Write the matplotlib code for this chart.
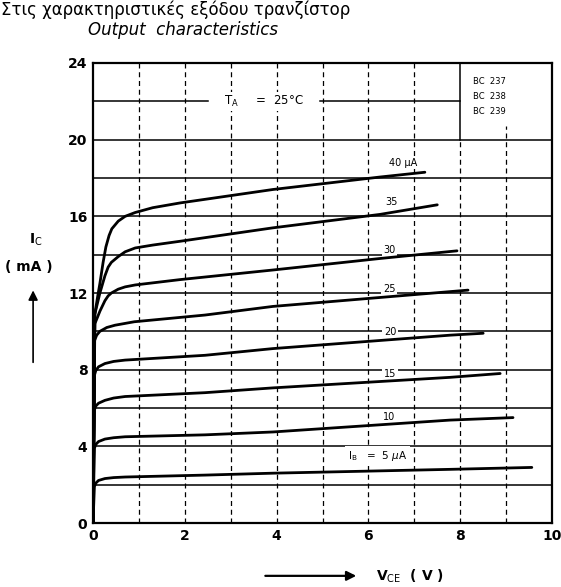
import numpy as np
import matplotlib
matplotlib.use('Agg')
import matplotlib.pyplot as plt

# curves: base current (uA) -> (Vce, Ic)
ib_labels = ['40 \u03bcA', '35', '30', '25', '20', '15', '10']
curve_x = {
    40: [0.0, 0.04, 0.1, 0.15, 0.22, 0.28, 0.35, 0.41, 0.55, 0.7, 0.92, 1.3, 1.9, 3.92, 6.25, 7.23],
    35: [0.0, 0.04, 0.1, 0.15, 0.26, 0.33, 0.4, 0.55, 0.7, 0.92, 1.3, 1.9, 3.92, 6.25, 7.5],
    30: [0.0, 0.04, 0.1, 0.15, 0.26, 0.33, 0.4, 0.55, 0.7, 0.92, 1.9, 3.92, 6.25, 7.93],
    25: [0.0, 0.03, 0.08, 0.15, 0.3, 0.48, 0.9, 2.44, 3.92, 8.17],
    20: [0.0, 0.03, 0.06, 0.12, 0.26, 0.45, 0.7, 2.44, 3.92, 7.78, 8.5],
    15: [0.0, 0.03, 0.06, 0.12, 0.26, 0.45, 0.7, 2.44, 3.92, 7.78, 8.87],
    10: [0.0, 0.03, 0.06, 0.12, 0.26, 0.45, 0.7, 2.44, 3.92, 7.78, 9.15],
    5: [0.0, 0.03, 0.06, 0.12, 0.26, 0.45, 0.7, 2.44, 3.92, 7.78, 9.56],
}
curve_y = {
    40: [0.0, 10.9, 11.8, 12.5, 13.6, 14.4, 15.0, 15.35, 15.75, 16.0, 16.2, 16.45, 16.7, 17.4, 18.05, 18.3],
    35: [0.0, 10.9, 11.5, 12.0, 12.9, 13.35, 13.6, 13.9, 14.15, 14.35, 14.5, 14.7, 15.4, 16.1, 16.6],
    30: [0.0, 10.4, 10.75, 11.05, 11.6, 11.85, 12.0, 12.2, 12.32, 12.42, 12.7, 13.2, 13.8, 14.2],
    25: [0.0, 9.5, 9.8, 10.0, 10.2, 10.32, 10.5, 10.85, 11.3, 12.15],
    20: [0.0, 7.7, 7.95, 8.15, 8.32, 8.43, 8.5, 8.75, 9.1, 9.8, 9.9],
    15: [0.0, 5.9, 6.1, 6.25, 6.4, 6.52, 6.6, 6.8, 7.05, 7.6, 7.8],
    10: [0.0, 3.9, 4.1, 4.25, 4.38, 4.45, 4.5, 4.6, 4.75, 5.37, 5.5],
    5: [0.0, 1.9, 2.08, 2.22, 2.32, 2.37, 2.4, 2.5, 2.6, 2.8, 2.9],
}
# label positions for the curves
label_x = [6.75, 6.5, 6.45, 6.45, 6.47, 6.47, 6.45]
label_y = [18.8, 16.75, 14.25, 12.2, 9.95, 7.75, 5.55]
devices = ['BC  237', 'BC  238', 'BC  239']

fig = plt.figure(figsize=(5.61, 5.87), dpi=100)
ax = fig.add_axes([0.1658, 0.109, 0.8182, 0.7837])

# grid: solid horizontals, dashed verticals
for yy in range(2, 22, 2):
    ax.axhline(yy, color='black', lw=1.1, zorder=1)
ax.plot([0, 2.5], [22, 22], color='black', lw=1.1, zorder=1)
ax.plot([4.95, 8.0], [22, 22], color='black', lw=1.1, zorder=1)
for xx in range(1, 10):
    top = 20.7 if xx == 9 else 24
    if xx == 8:
        ax.plot([xx, xx], [20, 24], color='black', lw=1.1, zorder=1)
        ax.plot([xx, xx], [0, 20], color='black', lw=0.9, ls=(0, (4, 3)), zorder=1)
    else:
        ax.plot([xx, xx], [0, top], color='black', lw=0.9, ls=(0, (4, 3)), zorder=1)

for k in curve_x:
    ax.plot(curve_x[k], curve_y[k], color='black', lw=2.0, zorder=3,
            solid_capstyle='round', solid_joinstyle='round')

for lab, lx, ly in zip(ib_labels, label_x, label_y):
    ax.text(lx, ly, lab, fontsize=7, ha='center', va='center', zorder=2,
            bbox=dict(facecolor='white', edgecolor='none', pad=1.0))
ax.text(6.2, 3.5, r'I$_{\rm B}$   =  5 $\mu$A', fontsize=7.5, ha='center',
        va='center', zorder=2, bbox=dict(facecolor='white', edgecolor='none', pad=2.0))
ax.text(3.72, 22.0, r'T$_{\rm A}$     =  25$\degree$C', fontsize=8.5, ha='center',
        va='center', zorder=2, bbox=dict(facecolor='white', edgecolor='none', pad=1.5))
for i, d in enumerate(devices):
    ax.text(8.28, 23.05 - 0.78 * i, d, fontsize=6, ha='left', va='center')

ax.set_xlim(0, 10)
ax.set_ylim(0, 24)
ax.set_xticks(range(0, 11, 2))
ax.set_yticks(range(0, 25, 4))
ax.tick_params(length=0, pad=4, labelsize=10)
for t in ax.get_xticklabels() + ax.get_yticklabels():
    t.set_fontweight('bold')
for s in ax.spines.values():
    s.set_linewidth(1.6)

# axis labels with arrows
fig.text(0.064, 0.592, r'I$_{\rm C}$', fontsize=10, ha='center', va='center', fontweight='bold')
fig.text(0.052, 0.545, '( mA )', fontsize=10, ha='center', va='center', fontweight='bold')
fig.add_artist(matplotlib.patches.FancyArrowPatch(
    (0.059, 0.378), (0.059, 0.51), transform=fig.transFigure,
    arrowstyle='-|>', mutation_scale=14, color='black', lw=1.2))
fig.add_artist(matplotlib.patches.FancyArrowPatch(
    (0.468, 0.019), (0.64, 0.019), transform=fig.transFigure,
    arrowstyle='-|>', mutation_scale=14, color='black', lw=1.6))
fig.text(0.67, 0.019, r'V$_{\rm CE}$  ( V )', fontsize=10, ha='left', va='center',
         fontweight='bold')

# titles
fig.text(0.002, 0.999, 'Στις χαρακτηριστικές εξόδου τρανζίστορ', fontsize=12,
         ha='left', va='top')
fig.text(0.157, 0.941, 'Output  characteristics', fontsize=12, style='italic',
         ha='left', va='baseline')

fig.savefig('out.png', dpi=100)
